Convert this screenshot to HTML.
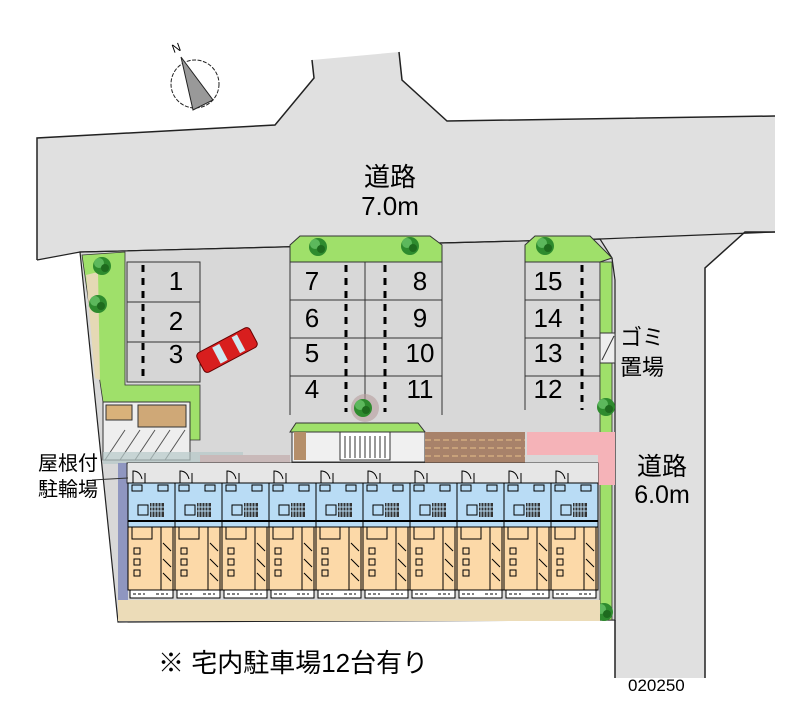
<!DOCTYPE html>
<html><head><meta charset="utf-8"><style>
html,body{margin:0;padding:0;background:#fff;width:800px;height:727px;overflow:hidden}
svg{display:block}
text{font-family:"Liberation Sans","Noto Sans CJK JP",sans-serif;fill:#000}
</style></head><body>
<svg width="800" height="727" viewBox="0 0 800 727" xmlns="http://www.w3.org/2000/svg">
<defs>
<g id="unit">
 <rect x="0" y="0" width="47" height="20" fill="#e6e6e6"/>
 <path d="M5 20 V8 Q12 8 14 16 M17 20 V10" stroke="#000" fill="none" stroke-width="1"/>
 <rect x="0" y="20" width="47" height="44" fill="#b9dcf5" stroke="#000" stroke-width="1"/>
 <rect x="4" y="22" width="10" height="6" fill="none" stroke="#000"/>
 <rect x="30" y="22" width="10" height="6" fill="none" stroke="#000"/>
 <rect x="10" y="42" width="10" height="10" fill="none" stroke="#000"/>
 <rect x="22" y="40" width="14" height="14" fill="#333"/>
 <path d="M24 40v14M27 40v14M30 40v14M33 40v14M22 44h14M22 48h14" stroke="#b9dcf5" stroke-width="1"/>
 <line x1="0" y1="58" x2="47" y2="58" stroke="#000" stroke-width="2"/>
 <rect x="0" y="64" width="47" height="63" fill="#fcd9a8" stroke="#000" stroke-width="1"/>
 <rect x="4" y="64" width="20" height="12" fill="none" stroke="#000"/>
 <rect x="33" y="64" width="12" height="63" fill="none" stroke="#000"/>
 <path d="M35 80l8 8M35 96l8 8M35 110l8 8" stroke="#000"/>
 <rect x="6" y="85" width="6" height="6" fill="none" stroke="#000"/>
 <rect x="6" y="96" width="6" height="6" fill="none" stroke="#000"/>
 <rect x="6" y="107" width="6" height="6" fill="none" stroke="#000"/>
 <rect x="2" y="127" width="43" height="8" fill="#fff" stroke="#000"/>
 <path d="M5 131h12M28 131h12" stroke="#000" stroke-dasharray="3 2"/>
</g>
<g id="tree"><circle r="9" fill="#2e8b2e"/><circle cx="-3" cy="-3" r="5" fill="#5cb85c"/><circle cx="3" cy="2" r="4" fill="#1e6b1e"/></g>
</defs>
<!-- roads -->
<path d="M37 138 L275 125 L314 78 L312 60 L399 52 L402 80 L447 121 L775 116 L775 232 L745 232 L705 268 L705 678 L615 678 L615 280 L605 262 L600 250 L80 252 L37 260 Z" fill="#e0e0e0"/>
<path d="M37 260 L37 138 L275 125 L314 78 L312 60 M399 52 L402 80 L447 121 L775 116 M775 232 L745 232 L705 268 L705 678 M615 678 L615 620" stroke="#222" fill="none" stroke-width="1.5"/>
<!-- site -->
<path d="M80 252 L600 239 L612 258 L615 280 L615 620 L118 622 Z" fill="#d8d8d8" stroke="#222" stroke-width="1.2"/>
<path d="M37 260 L80 252 L600 239 L775 232" stroke="#222" fill="none" stroke-width="1.2"/>
<!-- left green -->
<path d="M82 255 L125 252 L125 385 L200 385 L200 440 L190 440 L190 402 L103 402 L100 382 Z" fill="#9fe06a" stroke="#333" stroke-width="0.8"/>
<path d="M86 275 L98 272 L100 380 L95 378 Z" fill="#e5d9b5"/>
<use href="#tree" x="102" y="266"/>
<use href="#tree" x="98" y="304"/>
<!-- bike shelter -->
<rect x="103" y="402" width="87" height="58" fill="#eee" stroke="#333"/>
<rect x="106" y="405" width="26" height="15" fill="#d9b27a" stroke="#333"/>
<rect x="138" y="405" width="48" height="22" fill="#cfa877" stroke="#333"/>
<path d="M105 460 L125 430 M120 460 L140 430 M135 460 L155 430 M150 460 L170 430 M165 460 L185 430" stroke="#555"/>
<rect x="103" y="452" width="140" height="12" fill="#b6c9c9" opacity=".7"/>
<!-- lot 1-3 -->
<rect x="127" y="262" width="73" height="120" fill="#d6d6d6" stroke="#333"/>
<path d="M127 302h73M127 342h73" stroke="#333"/>
<line x1="143" y1="265" x2="143" y2="378" stroke="#000" stroke-width="3" stroke-dasharray="7 6"/>
<!-- middle block -->
<path d="M290 262 L290 245 L300 236 L430 236 L442 245 L442 262 Z" fill="#9fe06a" stroke="#333"/>
<use href="#tree" x="318" y="247"/><use href="#tree" x="410" y="246"/>
<path d="M290 262V415M442 262V415M365 262V410M290 262H442M290 300H442M290 338H442M290 376H442" stroke="#333" fill="none"/>
<line x1="346" y1="265" x2="346" y2="412" stroke="#000" stroke-width="3" stroke-dasharray="7 6"/>
<line x1="385" y1="265" x2="385" y2="412" stroke="#000" stroke-width="3" stroke-dasharray="7 6"/>
<!-- right block -->
<path d="M525 262 L525 245 L535 236 L590 236 L612 258 L600 262 Z" fill="#9fe06a" stroke="#333"/>
<use href="#tree" x="545" y="246"/>
<path d="M525 262V410M600 262V410M525 262H600M525 300H600M525 338H600M525 376H600" stroke="#333" fill="none"/>
<line x1="582" y1="265" x2="582" y2="410" stroke="#000" stroke-width="3" stroke-dasharray="7 6"/>
<rect x="600" y="262" width="12" height="358" fill="#9fe06a" stroke="#333" stroke-width="0.8"/>
<rect x="600" y="333" width="15" height="30" fill="#eee" stroke="#333"/>
<path d="M602 360 L614 336" stroke="#333"/>
<use href="#tree" x="606" y="407"/><use href="#tree" x="604" y="612"/>
<!-- entrance -->
<path d="M290 432 L296 423 L418 423 L425 432 Z" fill="#9fe06a" stroke="#333"/>
<circle cx="365" cy="408" r="14" fill="#b79e9e" opacity=".6"/>
<use href="#tree" x="363" y="408"/>
<rect x="292" y="432" width="133" height="30" fill="#f0f0f0" stroke="#333"/>
<rect x="294" y="432" width="12" height="28" fill="#b58f6a"/>
<rect x="340" y="432" width="50" height="28" fill="#fff" stroke="#333"/>
<path d="M345 436v22M350 436v22M355 436v22M360 436v22M365 436v22M370 436v22M375 436v22M380 436v22M385 436v22" stroke="#333"/>
<rect x="425" y="432" width="100" height="32" fill="#a8826a"/>
<path d="M425 440h100M425 448h100M425 456h100" stroke="#e8c08a" stroke-dasharray="6 3"/>
<rect x="527" y="432" width="88" height="23" fill="#f5b3b8"/>
<rect x="598" y="455" width="17" height="30" fill="#f5b3b8"/>
<rect x="200" y="455" width="90" height="8" fill="#c9b9b9"/>
<!-- building -->
<rect x="118" y="463" width="10" height="137" fill="#8f96c0"/>
<rect x="127" y="463" width="471" height="20" fill="#e6e6e6" stroke="#333"/>
<use href="#unit" x="128" y="463"/><use href="#unit" x="175" y="463"/><use href="#unit" x="222" y="463"/><use href="#unit" x="269" y="463"/><use href="#unit" x="316" y="463"/>
<use href="#unit" x="363" y="463"/><use href="#unit" x="410" y="463"/><use href="#unit" x="457" y="463"/><use href="#unit" x="504" y="463"/><use href="#unit" x="551" y="463"/>
<rect x="118" y="600" width="482" height="21" fill="#ecdcb8"/>
<!-- car -->
<g transform="translate(227,350) rotate(-28)">
<rect x="-30" y="-11" width="60" height="22" rx="4" fill="#d81e1e" stroke="#600"/>
<rect x="-12" y="-9" width="8" height="18" fill="#cfe8f0"/><rect x="10" y="-9" width="6" height="18" fill="#cfe8f0"/>
</g>
<!-- compass -->
<circle cx="195" cy="84" r="24" fill="none" stroke="#222" stroke-dasharray="4 1.5"/>
<path d="M181 57 L213 100 L193 110 Z" fill="#999" stroke="#222"/>
<text x="172" y="52" font-size="12" font-family="Liberation Serif" transform="rotate(-20 176 48)">N</text>
<!-- labels -->
<text x="390" y="186" font-size="26" text-anchor="middle">道路</text>
<text x="390" y="215" font-size="26" text-anchor="middle">7.0m</text>
<text x="662" y="475" font-size="25" text-anchor="middle">道路</text>
<text x="662" y="503" font-size="25" text-anchor="middle">6.0m</text>
<text x="620" y="345" font-size="22">ゴミ</text>
<text x="620" y="375" font-size="22">置場</text>
<text x="38" y="470" font-size="20">屋根付</text>
<text x="38" y="496" font-size="20">駐輪場</text>
<line x1="92" y1="480" x2="128" y2="478" stroke="#333"/>
<text x="158" y="672" font-size="26">※ 宅内駐車場12台有り</text>
<text x="628" y="691" font-size="17">020250</text>
<g font-size="26" text-anchor="middle">
<text x="176" y="290">1</text><text x="176" y="330">2</text><text x="176" y="363">3</text>
<text x="312" y="290">7</text><text x="312" y="327">6</text><text x="312" y="362">5</text><text x="312" y="398">4</text>
<text x="420" y="290">8</text><text x="420" y="327">9</text><text x="420" y="362">10</text><text x="420" y="398">11</text>
<text x="548" y="290">15</text><text x="548" y="327">14</text><text x="548" y="362">13</text><text x="548" y="398">12</text>
</g>
</svg>
</body></html>
